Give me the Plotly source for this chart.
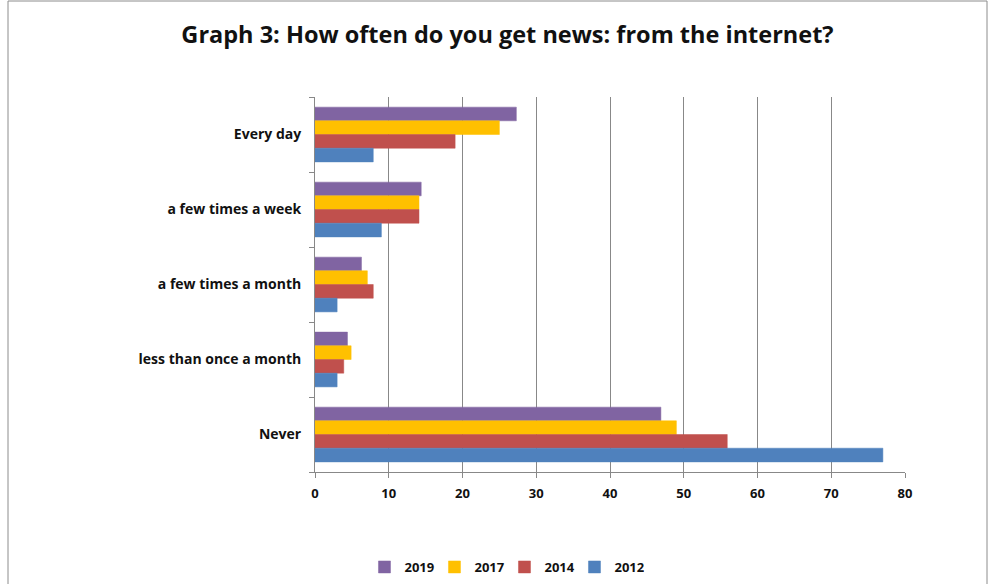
import plotly.graph_objects as go

categories = ["Every day", "a few times a week", "a few times a month", "less than once a month", "Never"]
years = ["2019", "2017", "2014", "2012"]
v2019 = [27.3, 14.4, 6.3, 4.4, 46.9]
v2017 = [25.0, 14.1, 7.1, 4.9, 49.0]
v2014 = [19.0, 14.1, 7.9, 3.9, 55.9]
v2012 = [7.9, 9.0, 3.0, 3.0, 77.0]
colors = ["#8064A2", "#FFC000", "#C0504D", "#4F81BD"]
x_ticks = [0, 10, 20, 30, 40, 50, 60, 70, 80]

series = [v2019, v2017, v2014, v2012]

fig = go.Figure()
for name, vals, col in zip(years, series, colors):
    fig.add_trace(go.Bar(
        y=categories, x=vals, name=f"<b>{name}</b>", orientation="h",
        marker=dict(color=col, line=dict(color=col, width=0.5)),
    ))

fig.update_layout(
    width=997, height=584,
    margin=dict(l=315, r=92, t=97, b=112),
    paper_bgcolor="white", plot_bgcolor="white",
    barmode="group", bargap=0.27, bargroupgap=0,
    title=dict(text="<b>Graph 3: How often do you get news: from the internet?</b>",
               x=0.509, xref="container", xanchor="center",
               y=1 - 35 / 584, yref="container", yanchor="middle",
               font=dict(family="Open Sans", size=23.5, color="#111111")),
    legend=dict(orientation="h", xref="container", x=0.506, xanchor="center",
                yref="container", y=1 - 567 / 584, yanchor="middle",
                font=dict(family="Open Sans", size=13, color="#111111"),
                itemwidth=30, entrywidth=25, entrywidthmode="pixels",
                tracegroupgap=0, traceorder="normal"),
    font=dict(family="Open Sans", size=12, color="#111111"),
    showlegend=True,
)

fig.update_xaxes(
    range=[0, 80], tickvals=x_ticks, ticktext=[f"<b>{t}</b>" for t in x_ticks],
    showgrid=True, gridcolor="#888888", gridwidth=1,
    showline=True, linecolor="#888888", linewidth=1,
    ticks="outside", ticklen=5, tickcolor="#888888",
    zeroline=False, mirror=False, ticklabelstandoff=4,
    tickfont=dict(family="Open Sans", size=13, color="#111111"),
)
fig.update_yaxes(
    autorange="reversed", categoryorder="array", categoryarray=categories,
    tickvals=categories, ticktext=[f"<b>{c}</b>" for c in categories],
    showline=True, linecolor="#888888", linewidth=1,
    ticks="outside", ticklen=5, tickcolor="#888888", tickson="boundaries",
    showgrid=False, ticklabelstandoff=10,
    tickfont=dict(family="Open Sans", size=14, color="#111111"),
)

# outer chart frame
fig.add_shape(type="rect", xref="paper", yref="paper",
              x0=(8 - 315) / 590, x1=(987 - 315) / 590,
              y0=(472 - 600) / 375, y1=(472 - 1) / 375,
              line=dict(color="#8c8c8c", width=1), fillcolor="rgba(0,0,0,0)", layer="below")

fig.write_html("out.html")
